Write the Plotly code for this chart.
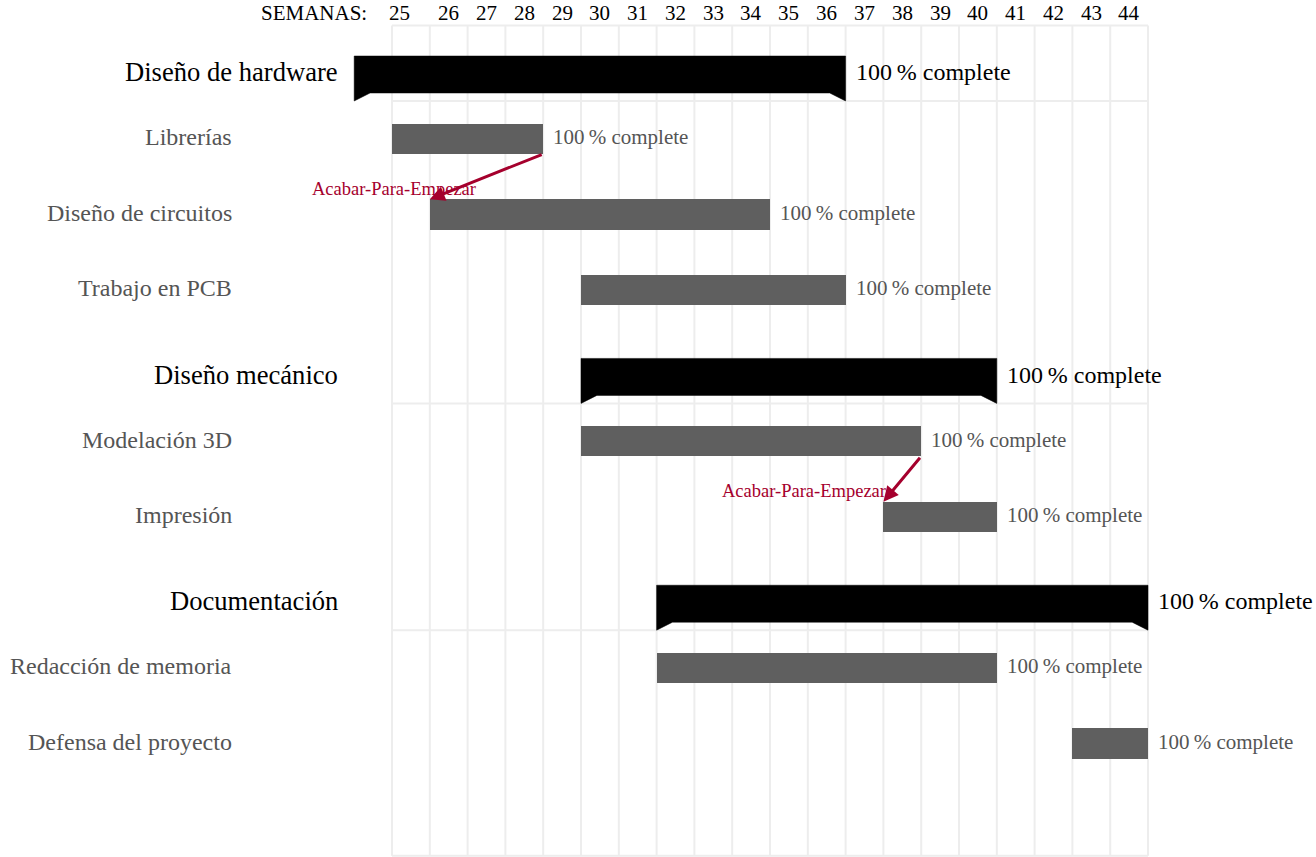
import plotly.graph_objects as go

# ---- schedule data -------------------------------------------------------
week_labels = [str(w) for w in range(25, 45)]
first_week, last_week = 25, 44

groups = ["Diseño de hardware", "Diseño mecánico", "Documentación"]
group_start = [24, 30, 32]
group_end = [36, 40, 44]
group_progress = [100, 100, 100]

tasks = ["Librerías", "Diseño de circuitos", "Trabajo en PCB",
         "Modelación 3D", "Impresión",
         "Redacción de memoria", "Defensa del proyecto"]
task_group = [0, 0, 0, 1, 1, 2, 2]
task_start = [25, 26, 30, 30, 38, 32, 43]
task_end = [28, 34, 36, 38, 40, 40, 44]
task_progress = [100, 100, 100, 100, 100, 100, 100]

links_from = ["Librerías", "Modelación 3D"]
links_to = ["Diseño de circuitos", "Impresión"]
link_label = "Acabar-Para-Empezar"

# ---- styling ---------------------------------------------------------------
FONT = "Liberation Serif, Times New Roman, serif"
TASK_GRAY = "#5f5f5f"
LABEL_GRAY = "#555555"
LINK_RED = "#a5002d"
GRID = "#ededed"
N_ROWS = 11

# row index for each line of the chart: group first, then its tasks
group_row, task_row = [], []
row = 0
for g in range(len(groups)):
    group_row.append(row)
    row += 1
    for t, tg in enumerate(task_group):
        if tg == g:
            task_row.append((t, row))
            row += 1
task_row = [r for _, r in sorted(task_row)]

fig = go.Figure()
shapes = []
annotations = []

# grid: vertical lines at every week boundary
for w in range(first_week, last_week + 2):
    shapes.append(dict(type="line", xref="x", yref="y", x0=w, x1=w,
                       y0=0, y1=N_ROWS - 0.015,
                       line=dict(color=GRID, width=2), layer="below"))
# horizontal lines: top, below each group block, bottom
hlines = [0] + [group_row[i] + 1 for i in range(len(groups))] + [N_ROWS - 0.015]
for yv in hlines:
    shapes.append(dict(type="line", xref="x", yref="y", x0=first_week,
                       x1=last_week + 1, y0=yv, y1=yv,
                       line=dict(color=GRID, width=2), layer="below"))

# group bars (black with notched ends)
notch = 0.42
for g, name in enumerate(groups):
    r = group_row[g]
    x0, x1 = group_start[g], group_end[g] + 1
    top, body, tip = r + 0.405, r + 0.894, r + 1.0
    xs = [x0, x1, x1, x1 - notch, x0 + notch, x0, x0]
    ys = [top, top, tip, body, body, tip, top]
    fig.add_trace(go.Scatter(x=xs, y=ys, mode="lines", fill="toself",
                             fillcolor="black", line=dict(color="black", width=0.5),
                             hoverinfo="skip", showlegend=False))
    annotations.append(dict(x=23.545, y=r + 0.62, xref="x", yref="y",
                            text=name, showarrow=False, xanchor="right",
                            yanchor="middle", xshift=3,
                            font=dict(family=FONT, size=26.6, color="black")))
    annotations.append(dict(x=x1, y=r + 0.62, xref="x", yref="y",
                            text=f"{group_progress[g]}\u2009% complete",
                            showarrow=False, xanchor="left", yanchor="middle",
                            xshift=8,
                            font=dict(family=FONT, size=24, color="black")))

# task bars
fig.add_trace(go.Bar(
    orientation="h",
    y=[r + 0.5 for r in task_row],
    base=task_start,
    x=[e + 1 - s for s, e in zip(task_start, task_end)],
    width=0.4,
    marker=dict(color=TASK_GRAY, line=dict(width=0)),
    hoverinfo="skip", showlegend=False,
))
for t, name in enumerate(tasks):
    r = task_row[t]
    annotations.append(dict(x=20.74, y=r + 0.48, xref="x", yref="y",
                            text=name, showarrow=False, xanchor="right",
                            yanchor="middle", xshift=3,
                            font=dict(family=FONT, size=24, color=LABEL_GRAY)))
    annotations.append(dict(x=task_end[t] + 1, y=r + 0.48, xref="x", yref="y",
                            text=f"{task_progress[t]}\u2009% complete",
                            showarrow=False, xanchor="left", yanchor="middle",
                            xshift=8,
                            font=dict(family=FONT, size=21, color=LABEL_GRAY)))

# finish-to-start links
link_text_pos = [(25.05, "center"), (38.12, "right")]
for k, (a, b) in enumerate(zip(links_from, links_to)):
    ia, ib = tasks.index(a), tasks.index(b)
    tail_x, tail_y = task_end[ia] + 1, task_row[ia] + 0.7
    head_x, head_y = task_start[ib], task_row[ib] + 0.3
    annotations.append(dict(x=head_x, y=head_y, ax=tail_x, ay=tail_y,
                            xref="x", yref="y", axref="x", ayref="y",
                            text="", showarrow=True, arrowhead=2,
                            arrowsize=1, arrowwidth=3, arrowcolor=LINK_RED,
                            standoff=0, startstandoff=0))
    lx, anchor = link_text_pos[k]
    annotations.append(dict(x=lx, y=head_y - 0.14, xref="x", yref="y",
                            text=link_label, showarrow=False, xanchor=anchor,
                            yanchor="middle",
                            font=dict(family=FONT, size=18.5, color=LINK_RED)))

# header row with week numbers
header_y = -0.17
annotations.append(dict(x=24.39, y=header_y, xref="x", yref="y",
                        text="SEMANAS:", showarrow=False, xanchor="right",
                        yanchor="middle",
                        font=dict(family=FONT, size=21, color="black")))
for i, lab in enumerate(week_labels):
    w = first_week + i
    xc = w + 0.19 if i == 0 else w + 0.5
    annotations.append(dict(x=xc, y=header_y, xref="x", yref="y",
                            text=lab, showarrow=False, xanchor="center",
                            yanchor="middle",
                            font=dict(family=FONT, size=21, color="black")))

fig.update_layout(
    width=1316, height=857,
    margin=dict(l=0, r=0, t=0, b=0),
    paper_bgcolor="white", plot_bgcolor="white",
    showlegend=False,
    shapes=shapes, annotations=annotations,
    xaxis=dict(range=[14.630, 49.444], visible=False, fixedrange=True),
    yaxis=dict(range=[N_ROWS, -0.336], visible=False, fixedrange=True),
    bargap=0,
)

fig.write_html("out.html")
